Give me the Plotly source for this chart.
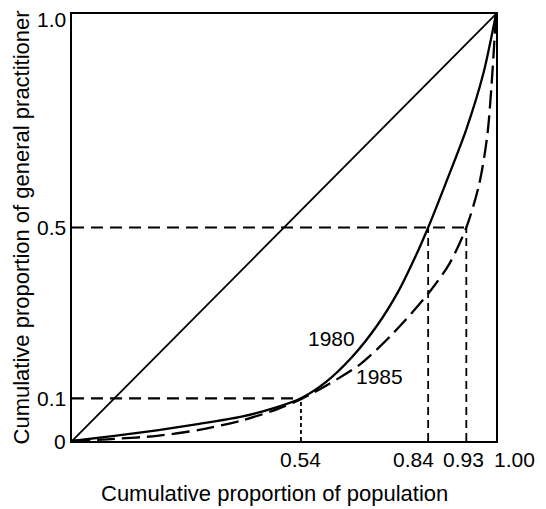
import plotly.graph_objects as go

# Lorenz curves
x1980 = [0, 0.1, 0.2, 0.3, 0.4, 0.48, 0.54, 0.6, 0.66, 0.72, 0.77, 0.81, 0.84, 0.88, 0.93, 0.97, 1.0]
y1980 = [0, 0.012, 0.025, 0.04, 0.057, 0.078, 0.1, 0.139, 0.196, 0.271, 0.351, 0.432, 0.5, 0.6, 0.73, 0.86, 1.0]

x1985 = [0, 0.1, 0.2, 0.3, 0.4, 0.48, 0.54, 0.6, 0.68, 0.76, 0.84, 0.89, 0.93, 0.96, 0.98, 1.0]
y1985 = [0, 0.005, 0.012, 0.026, 0.048, 0.073, 0.098, 0.13, 0.18, 0.255, 0.345, 0.415, 0.5, 0.6, 0.72, 1.0]

equality_x = [0, 1]
equality_y = [0, 1]

# reference marks
x_ticks = [0.54, 0.84, 0.93, 1.00]
x_tick_text = ["0.54", "0.84", "0.93", "1.00"]
y_ticks = [0, 0.1, 0.5, 1.0]
y_tick_text = ["0", "0.1", "0.5", "1.0"]

hline_levels = [0.1, 0.5]
hline_ends = [0.54, 0.93]
vline_pos = [0.54, 0.84, 0.93]
vline_tops = [0.1, 0.5, 0.5]

series_labels = ["1980", "1985"]
label_pos = [(0.611, 0.241), (0.726, 0.152)]

FONT = "Liberation Sans, Arial, sans-serif"
fig = go.Figure()

# dashed guide lines
for lvl, end in zip(hline_levels, hline_ends):
    fig.add_trace(go.Scatter(x=[0, end], y=[lvl, lvl], mode="lines",
                             line=dict(color="black", width=2.2, dash="12px,7px"),
                             hoverinfo="skip", showlegend=False))
for i, (xp, top) in enumerate(zip(vline_pos, vline_tops)):
    dash = "4px,3px" if i == 0 else "8px,5px"
    fig.add_trace(go.Scatter(x=[xp, xp], y=[0, top], mode="lines",
                             line=dict(color="black", width=1.8, dash=dash),
                             hoverinfo="skip", showlegend=False))

fig.add_trace(go.Scatter(x=equality_x, y=equality_y, mode="lines",
                         line=dict(color="black", width=1.8), showlegend=False))
fig.add_trace(go.Scatter(x=x1980, y=y1980, mode="lines", name="1980",
                         line=dict(color="black", width=2.3, shape="spline", smoothing=0.8),
                         showlegend=False))
fig.add_trace(go.Scatter(x=x1985, y=y1985, mode="lines", name="1985",
                         line=dict(color="black", width=2.3, shape="spline", smoothing=0.8,
                                   dash="18px,7px"),
                         showlegend=False))

ann = []
# x tick labels
x_shift = {"0.84": -15, "1.00": 18, "0.93": -3}
for v, t in zip(x_ticks, x_tick_text):
    ann.append(dict(x=v, y=0, xref="x", yref="y", text=t, showarrow=False,
                    xanchor="center", yanchor="top", yshift=-5, xshift=x_shift.get(t, 0),
                    font=dict(size=21, color="black", family=FONT)))
# y tick labels
y_shift = {"1.0": -5}
for v, t in zip(y_ticks, y_tick_text):
    ann.append(dict(x=0, y=v, xref="x", yref="y", text=t, showarrow=False,
                    xanchor="right", yanchor="middle", xshift=-4, yshift=y_shift.get(t, 0),
                    font=dict(size=21, color="black", family=FONT)))
for lab, (lx, ly) in zip(series_labels, label_pos):
    ann.append(dict(x=lx, y=ly, xref="x", yref="y", text=lab, showarrow=False,
                    xanchor="center", yanchor="middle",
                    font=dict(size=21, color="black", family=FONT)))
ann.append(dict(x=0.5, y=-0.123, xref="paper", yref="paper", xshift=-10,
                text="Cumulative proportion of population", showarrow=False,
                xanchor="center", yanchor="middle",
                font=dict(size=22, color="black", family=FONT)))
ann.append(dict(x=-0.118, y=0.5, xref="paper", yref="paper", textangle=-90,
                text="Cumulative proportion of general practitioner", showarrow=False,
                xanchor="center", yanchor="middle",
                font=dict(size=22, color="black", family=FONT)))

axis_common = dict(range=[0, 1], showgrid=False, zeroline=False, showticklabels=False,
                   ticks="", showline=True, mirror=True, linecolor="black", linewidth=2.4)
fig.update_layout(
    width=546, height=509,
    margin=dict(l=72, r=50, t=14, b=68),
    paper_bgcolor="white", plot_bgcolor="white",
    xaxis=axis_common, yaxis=axis_common,
    annotations=ann,
    showlegend=False,
)
fig.write_html("out.html")
